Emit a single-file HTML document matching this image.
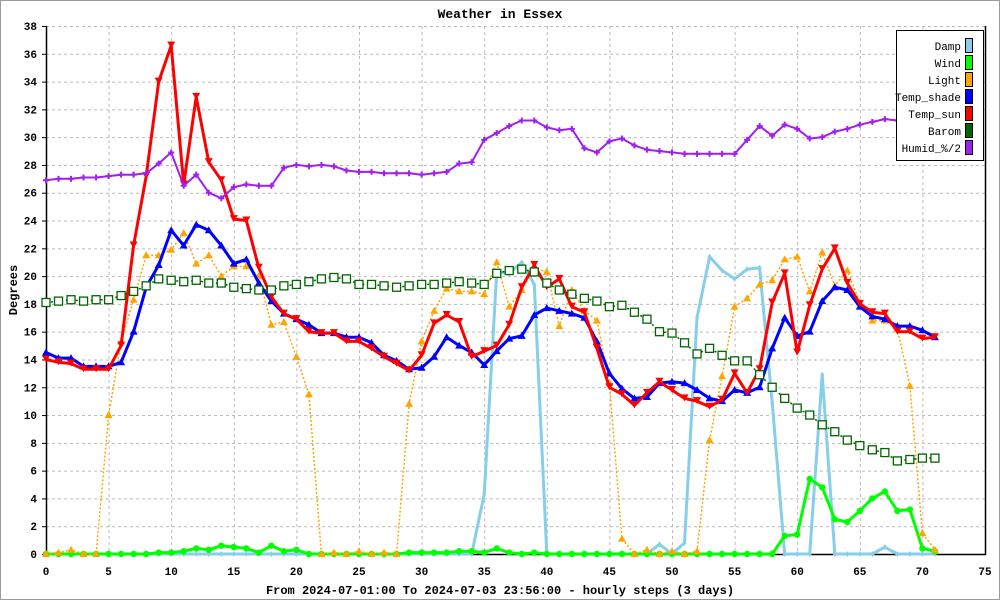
<!DOCTYPE html>
<html><head><meta charset="utf-8">
<style>
html,body{margin:0;padding:0;background:#fff;}
svg{display:block;font-family:"Liberation Mono",monospace;}
</style></head>
<body>
<svg id="chart" width="1000" height="600" viewBox="0 0 1000 600">
<rect x="0.5" y="0.5" width="999" height="599" fill="#fff" stroke="#999"/>
<text x="500" y="18" text-anchor="middle" font-size="13" font-weight="bold">Weather in Essex</text>
<text x="500" y="594" text-anchor="middle" font-size="12" font-weight="bold">From 2024-07-01:00 To 2024-07-03 23:56:00 - hourly steps (3 days)</text>
<text transform="translate(17,290) rotate(-90)" text-anchor="middle" font-size="12" font-weight="bold">Degrees</text>
<g id="grid"></g>
<g id="axes"></g>
<g id="series"></g>
<g id="legend"></g>
</svg>
<script>
const damp=[0,0,0,0,0,0,0,0,0,0,0,0,0,0,0,0,0,0,0,0,0,0,0,0,0,0,0,0,0,0,0,0,0,0,0,4.3,20.3,20.2,21.0,19.4,0,0,0,0,0,0,0,0,0,0.7,0,0.8,17.0,21.4,20.4,19.8,20.5,20.6,10.9,0,0,0,12.9,0,0,0,0,0.5,0,0,0,0];
const wind=[0,0,0,0,0,0,0,0,0,0.1,0.1,0.2,0.4,0.3,0.6,0.5,0.4,0.1,0.6,0.2,0.3,0,0,0,0,0,0,0,0,0.1,0.1,0.1,0.1,0.2,0.2,0.1,0.4,0.1,0,0.1,0,0,0,0,0,0,0,0,0,0,0,0,0,0,0,0,0,0,0,1.3,1.4,5.4,4.8,2.5,2.3,3.1,4.0,4.5,3.1,3.2,0.4,0.2];
const light=[0,0.1,0.3,0,0,10,15.3,18.3,21.5,21.5,21.9,23.1,20.9,21.5,20.0,20.7,20.7,20.0,16.5,16.7,14.2,11.5,0,0.1,0,0.2,0,0.1,0,10.8,15.3,17.5,19.1,18.9,18.9,18.7,21.0,17.8,19.0,20.6,20.3,16.4,19.0,17.5,16.8,12.3,1.1,0,0.3,0,0.2,0,0.2,8.2,12.8,17.8,18.4,19.4,19.7,21.2,21.4,18.9,21.7,19.3,20.4,18.1,16.8,16.8,16.2,12.1,1.5,0.3];
const tempShade=[14.5,14.1,14.1,13.5,13.5,13.5,13.8,16.0,19.2,20.8,23.3,22.2,23.7,23.3,22.2,20.9,21.2,19.5,18.2,17.3,16.9,16.5,15.9,15.9,15.6,15.6,15.2,14.3,13.9,13.3,13.4,14.2,15.6,15.0,14.5,13.6,14.6,15.5,15.7,17.2,17.7,17.5,17.3,17.0,15.3,13.0,11.9,11.2,11.3,12.3,12.4,12.3,11.8,11.2,11.0,11.8,11.6,12.0,14.8,17.0,15.7,16.0,18.2,19.2,19.0,17.8,17.1,16.9,16.4,16.4,16.1,15.6];
const tempSun=[14.0,13.8,13.7,13.3,13.3,13.3,15.0,22.2,27.2,34.0,36.6,26.6,32.9,28.2,26.9,24.1,24.0,20.6,18.5,17.3,16.9,16.0,15.9,15.9,15.3,15.3,14.8,14.2,13.7,13.2,14.3,16.6,17.2,16.7,14.2,14.6,15.0,16.5,19.2,20.8,19.2,19.8,17.8,17.4,14.8,12.0,11.5,10.7,11.6,12.4,11.8,11.2,11.0,10.6,11.1,13.0,11.6,13.3,18.1,20.2,14.5,17.9,20.5,22.0,19.5,18.0,17.4,17.3,16.0,16.0,15.5,15.6];
const barom=[18.1,18.2,18.3,18.2,18.3,18.3,18.6,18.9,19.3,19.8,19.7,19.6,19.7,19.5,19.5,19.2,19.1,19.0,19.0,19.3,19.4,19.6,19.8,19.9,19.8,19.4,19.4,19.3,19.2,19.3,19.4,19.4,19.5,19.6,19.5,19.4,20.2,20.4,20.5,20.3,19.5,19.0,18.7,18.4,18.2,17.8,17.9,17.4,16.9,16.0,15.9,15.2,14.4,14.8,14.3,13.9,13.9,12.9,12.0,11.2,10.5,10.0,9.3,8.8,8.2,7.8,7.5,7.3,6.7,6.8,6.9,6.9];
const humid=[26.9,27.0,27.0,27.1,27.1,27.2,27.3,27.3,27.4,28.1,28.9,26.5,27.3,26.0,25.6,26.4,26.6,26.5,26.5,27.8,28.0,27.9,28.0,27.9,27.6,27.5,27.5,27.4,27.4,27.4,27.3,27.4,27.5,28.1,28.2,29.8,30.3,30.8,31.2,31.2,30.7,30.5,30.6,29.2,28.9,29.7,29.9,29.4,29.1,29.0,28.9,28.8,28.8,28.8,28.8,28.8,29.8,30.8,30.1,30.9,30.6,29.9,30.0,30.4,30.6,30.9,31.1,31.3,31.2,31.4,31.5,31.6];
const yTicks=[0,2,4,6,8,10,12,14,16,18,20,22,24,26,28,30,32,34,36,38];
const xTicks=[0,5,10,15,20,25,30,35,40,45,50,55,60,65,70,75];
const legendNames=["Damp","Wind","Light","Temp_shade","Temp_sun","Barom","Humid_%/2"];
const legendColors=["#87ceeb","#00ff00","#ffa500","#0000ff","#ff0000","#006400","#a020f0"];

const NS="http://www.w3.org/2000/svg";
const X0=46,X1=985,Y0=554,Y1=26,XMAX=75,YMAX=38;
const xs=v=>X0+(X1-X0)*v/XMAX;
const ys=v=>Y0-(Y0-Y1)*v/YMAX;
function mk(tag,attrs,parent){const e=document.createElementNS(NS,tag);for(const k in attrs)e.setAttribute(k,attrs[k]);parent.appendChild(e);return e;}
const grid=document.getElementById('grid'),axes=document.getElementById('axes'),ser=document.getElementById('series'),leg=document.getElementById('legend');
yTicks.forEach(t=>{
  const l=mk('line',{x1:X0,x2:X1,y1:ys(t)+0.5,y2:ys(t)+0.5,stroke:'#bbb','stroke-dasharray':'3,3'},grid);
  
  
  const tk=mk('line',{x1:X0-4,x2:X0,y1:ys(t)+0.5,y2:ys(t)+0.5,stroke:'#000'},axes);
  
  
  const tx=mk('text',{x:X0-9,y:ys(t)+4,'text-anchor':'end','font-size':'11','font-weight':'bold'},axes);
  tx.textContent=t;
  
  
});
xTicks.forEach(t=>{
  const l=mk('line',{x1:xs(t)+0.5,x2:xs(t)+0.5,y1:Y1,y2:Y0,stroke:'#bbb','stroke-dasharray':'3,3'},grid);
  
  
  const tx=mk('text',{x:xs(t),y:575,'text-anchor':'middle','font-size':'11','font-weight':'bold'},axes);
  tx.textContent=t;
  
  
});
const ax=mk('path',{d:`M${X0+0.5},${Y1} V${Y0+0.5} H${X1+0.5} V${Y1}`,fill:'none',stroke:'#000','stroke-width':1.5},axes);



function marker(type,x,y,c,g){
  let e;
  if(type==='down') e=mk('path',{d:`M${x-4},${y-4}H${x+4}L${x},${y+3}Z`,fill:c},g);
  else if(type==='up') e=mk('path',{d:`M${x-4},${y+3}H${x+4}L${x},${y-4}Z`,fill:c},g);
  else if(type==='circ') e=mk('circle',{cx:x,cy:y,r:3.2,fill:c},g);
  else if(type==='dia') e=mk('path',{d:`M${x},${y-3}L${x+2},${y}L${x},${y+3}L${x-2},${y}Z`,fill:c},g);
  else if(type==='sq') e=mk('rect',{x:x-4,y:y-4,width:8,height:8,fill:'#fff',stroke:c,'stroke-width':1.3},g);
  else if(type==='plus') e=mk('path',{d:`M${x-3},${y}H${x+3}M${x},${y-3}V${y+3}`,stroke:c,'stroke-width':2},g);
  
  
}
function series(name,data,color,w,dash,mtype){
  const g=mk('g',{},ser);
  
  
  const pts=data.map((v,i)=>xs(i).toFixed(1)+','+ys(v).toFixed(1)).join(' ');
  const attrs={points:pts,fill:'none',stroke:color,'stroke-width':w,'stroke-linejoin':'round'};
  if(dash)attrs['stroke-dasharray']=dash;
  const p=mk('polyline',attrs,g);
  
  
  data.forEach((v,i)=>marker(mtype,xs(i),ys(v),color,g));
}
series('damp',damp,'#87ceeb',3,null,'dia');
series('wind',wind,'#00ff00',3,null,'circ');
series('light',light,'#ffa500',1.5,'2,2','up');
series('temp-shade',tempShade,'#0000ff',3,null,'up');
series('temp-sun',tempSun,'#ff0000',3,null,'down');
series('barom',barom,'#006400',1.5,'2,3','sq');
series('humid',humid,'#a020f0',2,null,'plus');

const box=mk('rect',{x:896.5,y:30.5,width:87,height:130,fill:'#fff',stroke:'#000','stroke-width':1},leg);


legendNames.forEach((n,i)=>{
  const y=46+i*17;
  const t=mk('text',{x:961,y:y+4,'text-anchor':'end','font-size':'11'},leg);
  t.textContent=n;
  
  
  const s=mk('rect',{x:965.5,y:y-7.5,width:7,height:14,fill:legendColors[i],stroke:'#000','stroke-width':1},leg);
  
  
});
</script>
</body></html>
